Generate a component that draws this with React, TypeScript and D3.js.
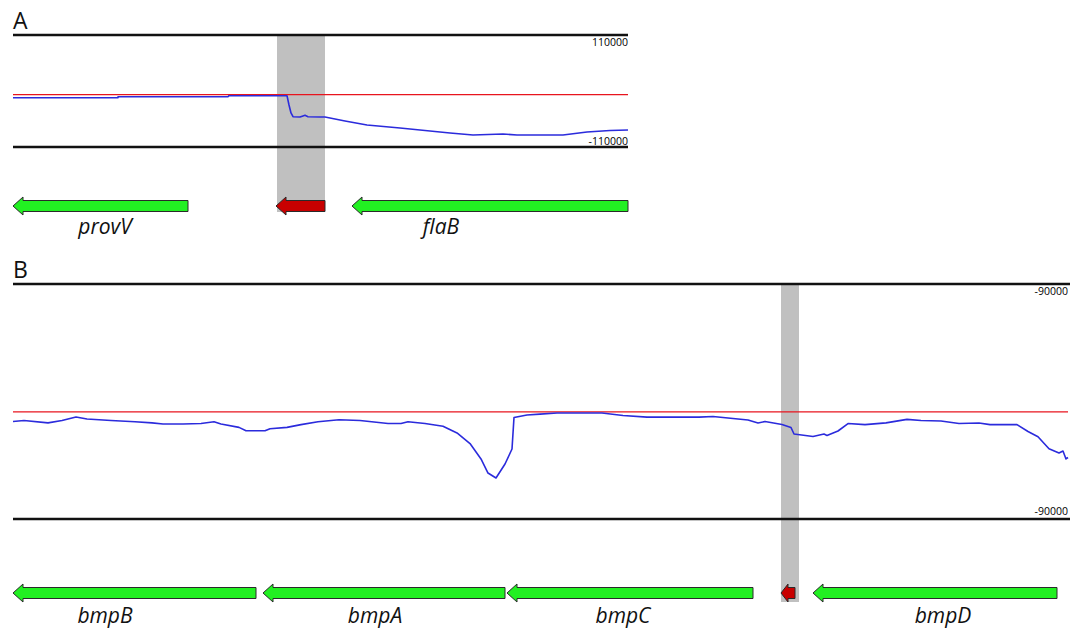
import React from "react";
import * as d3 from "d3";

// ---------- Panel A data (position in bp within window, value = signal) ----------
const posA = [0, 1050, 1050, 2150, 2160, 2740, 2760, 2780, 2800, 2870, 2900, 2920, 2950, 3070, 3120, 3320, 3540, 3870, 4370, 4600, 4900, 5040, 5500, 5740, 5970, 6150];
const valA = [-13200, -13200, -11200, -11200, -9200, -9200, -27500, -43200, -50500, -51100, -49100, -47700, -50500, -51100, -51100, -58900, -66800, -72700, -82500, -86400, -84500, -86400, -86400, -80500, -77600, -76600];
const thresholdA = -7300;
const ticksA = ["110000", "-110000"];
const genesA = ["provV", "", "flaB"];
const geneStartA = [0, 2630, 3390];
const geneEndA = [1750, 3120, 6150];
const geneKindA = ["gene", "srna", "gene"];
const labelPosA = [920, 0, 4280];
const highlightA = [2640, 3120];

// ---------- Panel B data ----------
const posB = [0, 110, 350, 490, 630, 740, 980, 1220, 1390, 1500, 1700, 1880, 2010, 2080, 2260, 2330, 2520, 2570, 2740, 2880, 3050, 3260, 3470, 3610, 3750, 3880, 3950, 4120, 4300, 4440, 4570, 4680, 4750, 4830, 4920, 4990, 5010, 5140, 5270, 5440, 5890, 6100, 6340, 6860, 7000, 7350, 7450, 7520, 7690, 7780, 7810, 8000, 8110, 8140, 8250, 8350, 8520, 8730, 8940, 9080, 9280, 9460, 9660, 9770, 10040, 10150, 10250, 10360, 10460, 10500, 10530, 10550];
const valB = [-15300, -14500, -16400, -14500, -11900, -13400, -14500, -15500, -16400, -17200, -17200, -16900, -15500, -17200, -19800, -22400, -22400, -20900, -19800, -17700, -15500, -14000, -14500, -15700, -16900, -16900, -15500, -16900, -19000, -24100, -32200, -44000, -54800, -58600, -47900, -36400, -12300, -10300, -9700, -8800, -8800, -10700, -12000, -12000, -11500, -14200, -16500, -15300, -17600, -19900, -24900, -26800, -24900, -26000, -22600, -16900, -17700, -16400, -13700, -14500, -14900, -16900, -16500, -17700, -17700, -23000, -27000, -36200, -39400, -37900, -44000, -42900];
const thresholdB = -8000;
const ticksB = ["-90000", "-90000"];
const genesB = ["bmpB", "bmpA", "bmpC", "", "bmpD"];
const geneStartB = [0, 2500, 4940, 7680, 8000];
const geneEndB = [2430, 4920, 7400, 7820, 10440];
const geneKindB = ["gene", "gene", "gene", "srna", "gene"];
const labelPosB = [920, 3620, 6100, 0, 9300];
const highlightB = [7680, 7860];

const FONT = "'Open Sans', 'Noto Sans', sans-serif";

function arrowPath(x: d3.ScaleLinear<number, number>, start: number, end: number, cy: number, headLen: number) {
  const tip = x(start);
  const base = tip + headLen;
  const right = x(end);
  const bh = 5.5;
  const hh = 9;
  return `M${tip},${cy} L${base},${cy - hh} L${base},${cy - bh} L${right},${cy - bh} L${right},${cy + bh} L${base},${cy + bh} L${base},${cy + hh} Z`;
}

interface PanelProps {
  letter: string;
  letterY: number;
  x: d3.ScaleLinear<number, number>;
  y: d3.ScaleLinear<number, number>;
  pos: number[];
  val: number[];
  threshold: number;
  thresholdEnd: number;
  ticks: string[];
  tickY: number[];
  genes: string[];
  starts: number[];
  ends: number[];
  kinds: string[];
  labelPos: number[];
  highlight: number[];
  highlightBottom: number;
  arrowY: number;
  labelY: number;
}

function Panel(p: PanelProps) {
  const [d0] = p.x.domain();
  const [r0, r1] = p.x.range();
  const [ybot, ytop] = p.y.range();
  const pts: [number, number][] = p.pos.map((v, i) => [v, p.val[i]]);
  const line = d3
    .line<[number, number]>()
    .x((d) => p.x(d[0]))
    .y((d) => p.y(d[1]))
    .curve(d3.curveLinear);
  return (
    <g>
      <text x={13} y={p.letterY} fontFamily={FONT} fontSize={23} fill="#111">
        {p.letter}
      </text>
      <rect
        x={p.x(p.highlight[0])}
        y={ytop}
        width={p.x(p.highlight[1]) - p.x(p.highlight[0])}
        height={p.highlightBottom - ytop}
        fill="#c0c0c0"
      />
      <line x1={r0} x2={r1} y1={ytop} y2={ytop} stroke="#111" strokeWidth={2.5} />
      <line x1={r0} x2={r1} y1={ybot} y2={ybot} stroke="#111" strokeWidth={2.5} />
      <line
        x1={p.x(d0)}
        x2={p.x(p.thresholdEnd)}
        y1={p.y(p.threshold)}
        y2={p.y(p.threshold)}
        stroke="#e8141e"
        strokeWidth={1.2}
      />
      <path d={line(pts) || ""} fill="none" stroke="#2b2bdc" strokeWidth={1.6} strokeLinejoin="round" />
      <text x={p.x(p.thresholdEnd)} y={p.tickY[0]} textAnchor="end" fontFamily={FONT} fontSize={10.5} fill="#000">
        {p.ticks[0]}
      </text>
      <text x={p.x(p.thresholdEnd)} y={p.tickY[1]} textAnchor="end" fontFamily={FONT} fontSize={10.5} fill="#000">
        {p.ticks[1]}
      </text>
      {p.genes.map((g, i) => (
        <g key={i}>
          <path
            d={arrowPath(p.x, p.starts[i], p.ends[i], p.arrowY, p.kinds[i] === "srna" && p.ends[i] - p.starts[i] < 300 ? 7 : 10)}
            fill={p.kinds[i] === "srna" ? "#c80000" : "#22f022"}
            stroke="#2a2a2a"
            strokeWidth={1}
          />
          {g && (
            <text
              x={p.x(p.labelPos[i])}
              y={p.labelY}
              textAnchor="middle"
              fontFamily={FONT}
              fontStyle="italic"
              fontSize={21}
              fill="#111"
            >
              {g}
            </text>
          )}
        </g>
      ))}
    </g>
  );
}

export default function App() {
  const xA = d3.scaleLinear().domain([0, 6150]).range([13, 628]);
  const yA = d3.scaleLinear().domain([-110000, 110000]).range([147, 35]);
  const xB = d3.scaleLinear().domain([0, 10570]).range([13, 1070]);
  const yB = d3.scaleLinear().domain([-90000, 90000]).range([519, 284]);
  return (
    <svg width={1076} height={630} style={{ position: "absolute", left: 0, top: 0, background: "#fff" }}>
      <rect width={1076} height={630} fill="#fff" />
      <Panel
        letter="A"
        letterY={29}
        x={xA}
        y={yA}
        pos={posA}
        val={valA}
        threshold={thresholdA}
        thresholdEnd={6150}
        ticks={ticksA}
        tickY={[46, 145]}
        genes={genesA}
        starts={geneStartA}
        ends={geneEndA}
        kinds={geneKindA}
        labelPos={labelPosA}
        highlight={highlightA}
        highlightBottom={212}
        arrowY={206}
        labelY={234}
      />
      <Panel
        letter="B"
        letterY={278}
        x={xB}
        y={yB}
        pos={posB}
        val={valB}
        threshold={thresholdB}
        thresholdEnd={10550}
        ticks={ticksB}
        tickY={[295, 515]}
        genes={genesB}
        starts={geneStartB}
        ends={geneEndB}
        kinds={geneKindB}
        labelPos={labelPosB}
        highlight={highlightB}
        highlightBottom={602}
        arrowY={593}
        labelY={623}
      />
    </svg>
  );
}
